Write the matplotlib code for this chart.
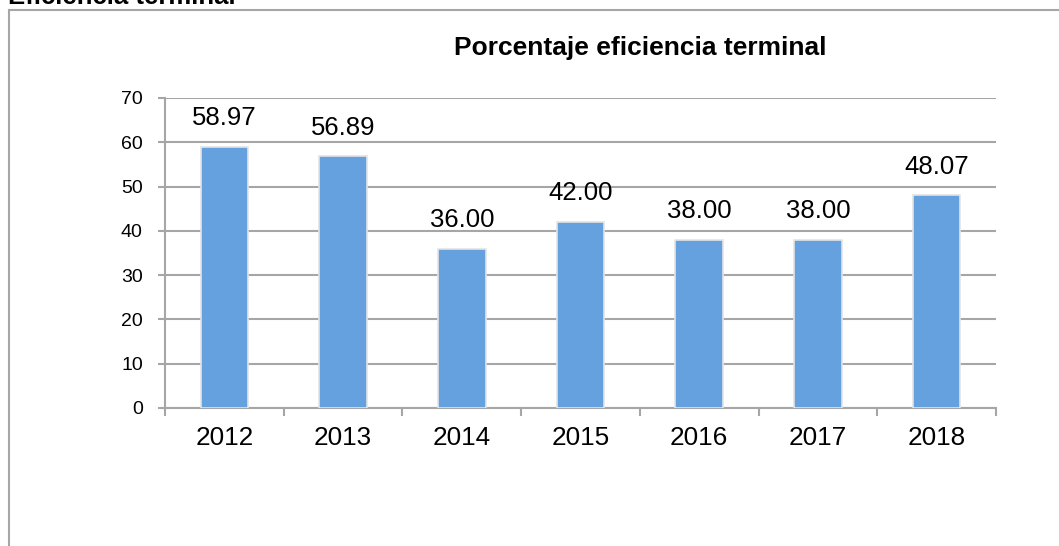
import matplotlib
matplotlib.use("Agg")
import matplotlib.pyplot as plt
from matplotlib.lines import Line2D

plt.rcParams['font.family'] = ['Liberation Sans', 'DejaVu Sans']

years = ['2012', '2013', '2014', '2015', '2016', '2017', '2018']
values = [58.97, 56.89, 36.00, 42.00, 38.00, 38.00, 48.07]
yticks = [0, 10, 20, 30, 40, 50, 60, 70]

W, H = 1059, 546
fig = plt.figure(figsize=(W / 100, H / 100), dpi=100)
ax = fig.add_axes([165 / W, 1 - 408 / H, (996 - 165) / W, (408 - 98) / H])

grid_c = '#a6a6a6'
x = list(range(len(years)))
ax.bar(x, values, width=0.40, color='#65a1de', edgecolor='#e4e4e4',
       linewidth=1.2, zorder=3)
for xi, v in zip(x, values):
    ax.annotate(f'{v:.2f}', (xi, v), xytext=(0, 15.5), textcoords='offset points',
                ha='center', va='baseline', fontsize=18.5, color='black')

ax.set_xlim(-0.5, len(years) - 0.5)
ax.set_ylim(0, 70)
ax.set_yticks(yticks)
ax.set_yticklabels([str(t) for t in yticks], fontsize=14)
ax.set_xticks(x)
ax.set_xticklabels(years, fontsize=18.8)
ax.tick_params(axis='x', length=0, pad=13)
ax.set_xticks([i - 0.5 for i in range(len(years) + 1)], minor=True)
ax.tick_params(axis='x', which='minor', length=6, width=1.5, color=grid_c)
ax.tick_params(axis='y', length=5, width=1.5, color=grid_c, pad=11)
ax.yaxis.grid(True, color=grid_c, linewidth=1.5, zorder=0)
ax.set_axisbelow(True)
for s in ['top', 'right']:
    ax.spines[s].set_visible(False)
for s in ['left', 'bottom']:
    ax.spines[s].set_color(grid_c)
    ax.spines[s].set_linewidth(1.5)

fig.text(640 / W, 1 - 55 / H, 'Porcentaje eficiencia terminal', ha='center',
         va='baseline', fontsize=19, fontweight='bold')
fig.text(8 / W, 1 - 4.5 / H, 'Eficiencia terminal', ha='left', va='baseline',
         fontsize=18.5, fontweight='bold')

fig.add_artist(Line2D([8.5 / W, 8.5 / W], [0, 1 - 10 / H], transform=fig.transFigure,
                      color=grid_c, linewidth=1.5))
fig.add_artist(Line2D([8.5 / W, 1], [1 - 10 / H, 1 - 10 / H], transform=fig.transFigure,
                      color=grid_c, linewidth=1.5))

fig.savefig('out.png', dpi=100)
